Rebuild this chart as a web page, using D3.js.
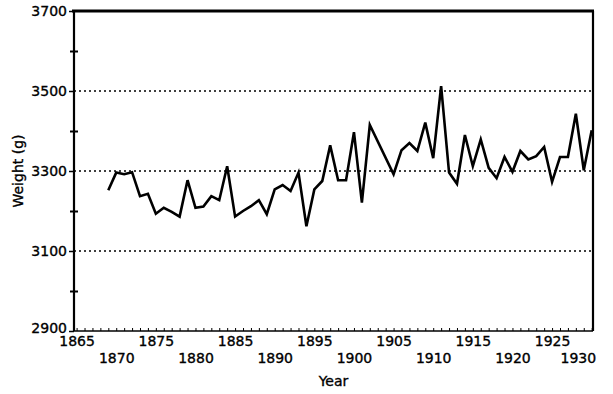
<!DOCTYPE html>
<html>
<head>
<meta charset="utf-8">
<script src="https://cdn.jsdelivr.net/npm/d3@7"></script>
<style>
  body { margin: 0; background: #fff; }
  svg { display: block; }
  text { font-family: "DejaVu Sans", sans-serif; font-size: 14px; fill: #000; stroke: #000; stroke-width: 0.35px; }
</style>
</head>
<body>
<svg id="chart" width="613" height="394"></svg>
<script>
const years = [
  1869, 1870, 1871, 1872, 1873, 1874, 1875, 1876, 1877, 1878,
  1879, 1880, 1881, 1882, 1883, 1884, 1885, 1886, 1887, 1888,
  1889, 1890, 1891, 1892, 1893, 1894, 1895, 1896, 1897, 1898,
  1899, 1900, 1901, 1902, 1905, 1906, 1907, 1908, 1909, 1910,
  1911, 1912, 1913, 1914, 1915, 1916, 1917, 1918, 1919, 1920,
  1921, 1922, 1923, 1924, 1925, 1926, 1927, 1928, 1929, 1930
];
const weights = [
  3252, 3296, 3292, 3297, 3237, 3243, 3193, 3208, 3198, 3186,
  3277, 3208, 3211, 3237, 3227, 3312, 3186, 3200, 3212, 3227,
  3192, 3254, 3265, 3250, 3296, 3162, 3254, 3275, 3364, 3277,
  3277, 3397, 3221, 3415, 3292, 3352, 3370, 3350, 3421, 3332,
  3512, 3296, 3268, 3390, 3312, 3379, 3308, 3282, 3335, 3298,
  3350, 3329, 3337, 3360, 3273, 3335, 3335, 3443, 3302, 3402
];
const yMajor = [2900, 3100, 3300, 3500, 3700];
const yMinor = [3000, 3200, 3400, 3600];
const gridValues = [3100, 3300, 3500];
const xLabelYears = [1865, 1870, 1875, 1880, 1885, 1890, 1895, 1900, 1905, 1910, 1915, 1920, 1925, 1930];

const svg = d3.select('#chart');

// plot frame in pixels
const frameL = 74, frameR = 593, frameT = 11, frameB = 331;

const x = d3.scaleLinear().domain([1865, 1930]).range([76.6, 591.7]);
const y = d3.scaleLinear().domain([2900, 3700]).range([frameB, frameT]);

// dotted guides
svg.append('g').selectAll('line')
  .data(gridValues)
  .join('line')
  .attr('x1', frameL).attr('x2', frameR)
  .attr('y1', d => y(d)).attr('y2', d => y(d))
  .attr('stroke', '#000')
  .attr('stroke-width', 1.3)
  .attr('stroke-dasharray', '2,3');

// x axis with a tick every year, labels on two rows
const xAxis = d3.axisBottom(x)
  .tickValues(d3.range(1865, 1931))
  .tickSizeInner(-3)
  .tickSizeOuter(0)
  .tickPadding(3)
  .tickFormat(d => xLabelYears.includes(d) ? d : '');

const gx = svg.append('g')
  .attr('transform', `translate(0,${frameB})`)
  .call(xAxis);
gx.select('.domain').remove();
gx.selectAll('.tick line').attr('stroke', '#000').attr('stroke-width', 1);
gx.selectAll('.tick text')
  .attr('y', d => d % 10 === 0 ? 22 : 5)
  .filter(d => d === 1930)
  .attr('text-anchor', 'end')
  .attr('x', 4);

// y axis, major and crossing minor ticks
const gy = svg.append('g')
  .attr('transform', `translate(${frameL},0)`)
  .call(d3.axisLeft(y).tickValues(yMajor).tickSizeInner(5).tickSizeOuter(0).tickPadding(2).tickFormat(d3.format('d')));
gy.select('.domain').remove();
gy.selectAll('.tick line').attr('stroke', '#000').attr('stroke-width', 1.5);
gy.selectAll('.tick text').filter(d => d === 2900).attr('dy', '0.1em');

[d3.axisLeft(y), d3.axisRight(y)].forEach(ax => {
  const g = svg.append('g')
    .attr('transform', `translate(${frameL},0)`)
    .call(ax.tickValues(yMinor).tickSizeInner(4).tickSizeOuter(0).tickFormat(''));
  g.select('.domain').remove();
  g.selectAll('.tick line').attr('stroke', '#000').attr('stroke-width', 2);
});

// frame
svg.append('line').attr('x1', frameL).attr('x2', frameR).attr('y1', frameB).attr('y2', frameB)
  .attr('stroke', '#000').attr('stroke-width', 1.5);
svg.append('line').attr('x1', frameL).attr('x2', frameL).attr('y1', frameT - 1).attr('y2', frameB)
  .attr('stroke', '#000').attr('stroke-width', 2.2);
svg.append('line').attr('x1', frameR).attr('x2', frameR).attr('y1', frameT).attr('y2', frameB)
  .attr('stroke', '#000').attr('stroke-width', 2.2);
svg.append('line').attr('x1', frameL - 2).attr('x2', frameR + 1).attr('y1', frameT).attr('y2', frameT)
  .attr('stroke', '#000').attr('stroke-width', 3);

// series
const line = d3.line()
  .x((d, i) => x(years[i]))
  .y(d => y(d));

svg.append('path')
  .datum(weights)
  .attr('d', line)
  .attr('fill', 'none')
  .attr('stroke', '#000')
  .attr('stroke-width', 2.6)
  .attr('stroke-linejoin', 'miter');

// titles
svg.append('text')
  .attr('x', (frameL + frameR) / 2)
  .attr('y', 386)
  .attr('text-anchor', 'middle')
  .text('Year');

svg.append('text')
  .attr('transform', `translate(23,${(frameT + frameB) / 2}) rotate(-90)`)
  .attr('text-anchor', 'middle')
  .text('Weight (g)');
</script>
</body>
</html>
